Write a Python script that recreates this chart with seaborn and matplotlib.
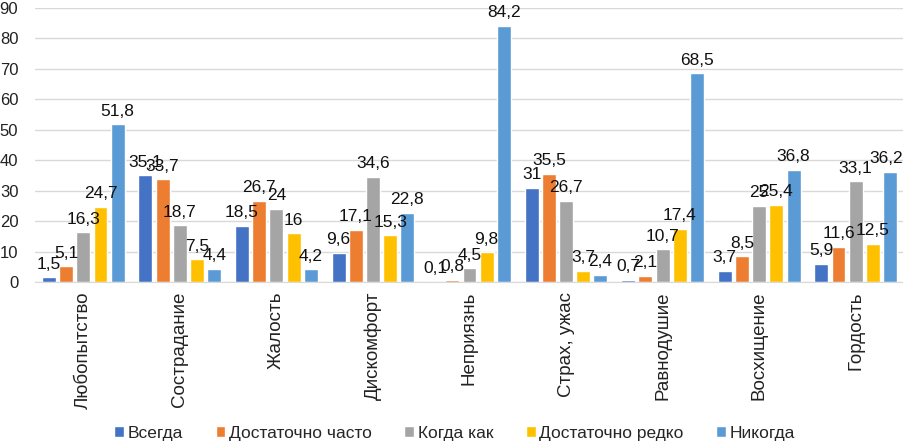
import numpy as np
import pandas as pd
import matplotlib
matplotlib.use("Agg")
import matplotlib.pyplot as plt
import seaborn as sns

# Данные
категории = ["Любопытство", "Сострадание", "Жалость", "Дискомфорт", "Неприязнь",
             "Страх, ужас", "Равнодушие", "Восхищение", "Гордость"]
ответы = ["Всегда", "Достаточно часто", "Когда как", "Достаточно редко", "Никогда"]

всегда = [1.5, 35.1, 18.5, 9.6, 0.1, 31, 0.7, 3.7, 5.9]
часто = [5.1, 33.7, 26.7, 17.1, 0.8, 35.5, 2.1, 8.5, 11.6]
когда_как = [16.3, 18.7, 24, 34.6, 4.5, 26.7, 10.7, 25, 33.1]
редко = [24.7, 7.5, 16, 15.3, 9.8, 3.7, 17.4, 25.4, 12.5]
никогда = [51.8, 4.4, 4.2, 22.8, 84.2, 2.4, 68.5, 36.8, 36.2]

цвета = ["#4472C4", "#ED7D31", "#A5A5A5", "#FFC000", "#5B9BD5"]

ряды = [всегда, часто, когда_как, редко, никогда]
df = pd.DataFrame({
    "Категория": категории * len(ответы),
    "Ответ": np.repeat(ответы, len(категории)),
    "Значение": np.concatenate(ряды),
})

sns.set_style("white")
plt.rcParams['font.family'] = ['Liberation Sans', 'DejaVu Sans']

fig = plt.figure(figsize=(9.04, 4.44), dpi=100)
ax = fig.add_axes([35 / 904, 1 - 282 / 444, 1 - 35 / 904, (282 - 8) / 444])

sns.barplot(data=df, x="Категория", y="Значение", hue="Ответ", order=категории,
            hue_order=ответы, palette=цвета, width=0.89, gap=0.19,
            saturation=1, ax=ax, legend=True)

def подпись(v):
    return f"{v:g}".replace(".", ",")

for контейнер, ряд in zip(ax.containers, ряды):
    тексты = ax.bar_label(контейнер, labels=[подпись(v) for v in ряд], padding=4,
                          fontsize=12.5, color="#111111")

# последняя подпись чуть левее, чтобы не обрезалась краем
dx, dy = тексты[-1].get_position()
тексты[-1].set_position((dx - 3, dy))

ax.set_ylim(0, 90)
ax.set_yticks(range(0, 91, 10))
ax.set_xlim(-0.5, len(категории) - 0.5)
ax.grid(axis="y", color="#D9D9D9", linewidth=1)
ax.set_axisbelow(True)
for s in ["top", "right", "left"]:
    ax.spines[s].set_visible(False)
ax.spines["bottom"].set_color("#D9D9D9")
ax.tick_params(axis="y", labelsize=12, length=0, pad=12, colors="#222222")
ax.tick_params(axis="x", labelsize=13.5, length=0, pad=7, colors="#222222")
plt.setp(ax.get_xticklabels(), rotation=90)
ax.set_xlabel("")
ax.set_ylabel("")

ax.legend(loc="center", bbox_to_anchor=(0.5 - 15 / 869, -(433 - 282) / 274),
          ncol=5, frameon=False, handlelength=0.55, handleheight=0.55,
          handletextpad=0.2, columnspacing=1.9, prop={'size': 12.5})

fig.savefig("out.png", dpi=100)
